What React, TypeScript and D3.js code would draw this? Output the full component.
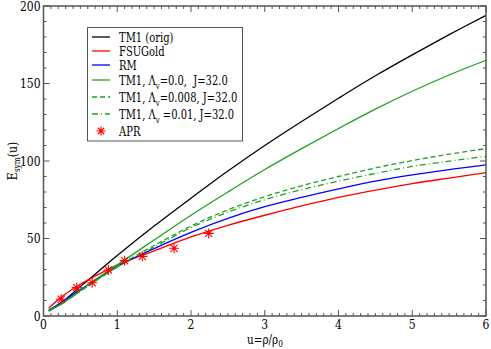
import React, { useRef, useEffect } from 'react';
import * as d3 from 'd3';

// density u = rho/rho0 where the curves were read
const uGrid = [0.07, 0.25, 0.5, 0.75, 1, 1.5, 2, 2.5, 3, 3.5, 4, 4.5, 5, 5.5, 6];

const tm1Orig = [3.5, 9, 19, 29, 39, 58, 76, 93.5, 110, 125.5, 140.5, 155, 168.5, 181.5, 194];
const fsuGold = [5, 12.5, 20.5, 27, 33, 42, 51, 58.5, 65, 71, 76.5, 81.2, 85.4, 89, 92.5];
const rm = [3.5, 9, 17, 24.5, 32, 43.5, 54, 63, 70.5, 76.5, 82, 87, 91, 94.5, 97.5];
const tm1Lv0 = [3.2, 8, 16.5, 25, 33, 49, 65, 80, 94.5, 108, 121, 133.5, 145, 155.5, 165];
const tm1Lv008 = [3.2, 8, 16, 24, 32, 45.5, 58, 68.5, 77, 84, 90, 95.5, 100.3, 104.4, 108];
const tm1Lv01 = [3.2, 8, 16, 24, 31.5, 44.5, 57, 67, 75, 81.5, 87, 92, 96.5, 99.9, 103];

const aprU = [0.24, 0.45, 0.66, 0.88, 1.1, 1.34, 1.77, 2.24];
const aprE = [10.8, 18.3, 21.5, 29.7, 35.7, 38.5, 43.7, 53.3];

const xTicks = [0, 1, 2, 3, 4, 5, 6];
const yTicks = [0, 50, 100, 150, 200];

const GREEN = '#22a022';

const series = [
  { name: 'TM1 (orig)', values: tm1Orig, color: '#000000', dash: null },
  { name: 'FSUGold', values: fsuGold, color: '#ff0000', dash: null },
  { name: 'RM', values: rm, color: '#0000ff', dash: null },
  { name: 'lv0', values: tm1Lv0, color: GREEN, dash: null },
  { name: 'lv008', values: tm1Lv008, color: GREEN, dash: '5,3' },
  { name: 'lv01', values: tm1Lv01, color: GREEN, dash: '6,3,1,3' },
];

// DejaVu Serif is wider than Times, so squeeze the glyphs a little
const SQ = 0.83;

const App = () => {
  const ref = useRef<SVGSVGElement>(null);

  useEffect(() => {
    const svg = d3.select(ref.current);
    svg.selectAll('*').remove();

    const x = d3.scaleLinear().domain([0, 6]).range([43.5, 486]);
    const y = d3.scaleLinear().domain([0, 200]).range([316, 6]);
    const [x0, x1] = x.range();
    const [y0, y1] = y.range();

    const g = svg.append('g').attr('font-family', "'DejaVu Serif', serif");

    // curves
    const line = d3.line<number>()
      .x((_, i) => x(uGrid[i]))
      .y(d => y(d))
      .curve(d3.curveCatmullRom);

    series.forEach(s => {
      g.append('path')
        .datum(s.values)
        .attr('d', line)
        .attr('fill', 'none')
        .attr('stroke', s.color)
        .attr('stroke-width', 1.3)
        .attr('stroke-dasharray', s.dash);
    });

    // APR stars
    const star = (cx: number, cy: number, r: number) => {
      const d = r * 0.72;
      return `M${cx - r},${cy}L${cx + r},${cy}M${cx},${cy - r}L${cx},${cy + r}` +
        `M${cx - d},${cy - d}L${cx + d},${cy + d}M${cx - d},${cy + d}L${cx + d},${cy - d}`;
    };
    aprU.forEach((u, i) => {
      g.append('path')
        .attr('d', star(x(u), y(aprE[i]), 5))
        .attr('stroke', '#ff0000')
        .attr('stroke-width', 1.1)
        .attr('fill', 'none');
    });

    // frame
    g.append('rect')
      .attr('x', x0).attr('y', y1)
      .attr('width', x1 - x0).attr('height', y0 - y1)
      .attr('fill', 'none')
      .attr('stroke', '#555')
      .attr('stroke-width', 1.5);

    // ticks on all four sides, inward
    const tickCol = '#555';
    d3.range(0, 6.0001, 0.1).forEach(v => {
      const major = Math.abs(v - Math.round(v)) < 1e-6;
      const len = major ? 6 : 3;
      g.append('line').attr('x1', x(v)).attr('x2', x(v)).attr('y1', y0).attr('y2', y0 - len)
        .attr('stroke', tickCol).attr('stroke-width', 1);
      g.append('line').attr('x1', x(v)).attr('x2', x(v)).attr('y1', y1).attr('y2', y1 + len)
        .attr('stroke', tickCol).attr('stroke-width', 1);
    });
    d3.range(0, 200.001, 10).forEach(v => {
      const major = v % 50 === 0;
      const len = major ? 6 : 3;
      g.append('line').attr('y1', y(v)).attr('y2', y(v)).attr('x1', x0).attr('x2', x0 + len)
        .attr('stroke', tickCol).attr('stroke-width', 1);
      g.append('line').attr('y1', y(v)).attr('y2', y(v)).attr('x1', x1).attr('x2', x1 - len)
        .attr('stroke', tickCol).attr('stroke-width', 1);
    });

    // tick labels
    xTicks.forEach(v => {
      g.append('text')
        .attr('transform', `translate(${x(v)},${y0 + 13}) scale(${SQ},1)`)
        .attr('text-anchor', 'middle')
        .attr('font-size', 13)
        .text(v);
    });
    yTicks.forEach(v => {
      g.append('text')
        .attr('transform', `translate(${x0 - 3},${y(v) + 4.5}) scale(${SQ},1)`)
        .attr('text-anchor', 'end')
        .attr('font-size', 13)
        .text(v);
    });

    // axis titles
    const xl = g.append('text')
      .attr('transform', `translate(265,344) scale(${SQ},1)`)
      .attr('text-anchor', 'middle')
      .attr('font-size', 12.5);
    xl.append('tspan').text('u=ρ/ρ');
    xl.append('tspan').attr('dy', 3).attr('font-size', 9).text('0');

    const yl = g.append('text')
      .attr('transform', `translate(17,161) rotate(-90) scale(${SQ},1)`)
      .attr('text-anchor', 'middle')
      .attr('font-size', 13);
    yl.append('tspan').text('E');
    yl.append('tspan').attr('dy', 3).attr('font-size', 9).text('sym');
    yl.append('tspan').attr('dy', -3).text('(u)');

    // legend
    const lg = g.append('g');
    lg.append('rect')
      .attr('x', 87.5).attr('y', 27.5).attr('width', 155).attr('height', 113.5)
      .attr('fill', 'white').attr('stroke', '#555').attr('stroke-width', 1);

    const rowsY = [37, 51, 65, 80, 97, 114, 131];
    const labels: (string | [string, string, string])[] = [
      'TM1 (orig)', 'FSUGold', 'RM',
      ['TM1, Λ', 'v', '=0.0,  J=32.0'],
      ['TM1, Λ', 'v', '=0.008, J=32.0'],
      ['TM1, Λ', 'v', ' =0.01, J=32.0'],
      'APR',
    ];
    labels.forEach((lab, i) => {
      const ry = rowsY[i];
      if (i < series.length) {
        const s = series[i];
        lg.append('line')
          .attr('x1', 92).attr('x2', 110).attr('y1', ry).attr('y2', ry)
          .attr('stroke', s.color).attr('stroke-width', 1.3)
          .attr('stroke-dasharray', s.dash);
      } else {
        lg.append('path')
          .attr('d', star(101, ry, 4.5))
          .attr('stroke', '#ff0000').attr('stroke-width', 1.1).attr('fill', 'none');
      }
      const t = lg.append('text')
        .attr('transform', `translate(119,${ry + 4.5}) scale(${SQ},1)`)
        .attr('font-size', 12)
        .style('white-space', 'pre');
      if (typeof lab === 'string') {
        t.text(lab);
      } else {
        t.append('tspan').text(lab[0]);
        t.append('tspan').attr('dy', 4).attr('font-size', 8.5).text(lab[1]);
        t.append('tspan').attr('dy', -4).text(lab[2]);
      }
    });

    return () => {
      svg.selectAll('*').remove();
    };
  }, []);

  return (
    <svg
      ref={ref}
      width={491}
      height={349}
      style={{ position: 'absolute', left: 0, top: 0, background: 'white' }}
    />
  );
};

export default App;
